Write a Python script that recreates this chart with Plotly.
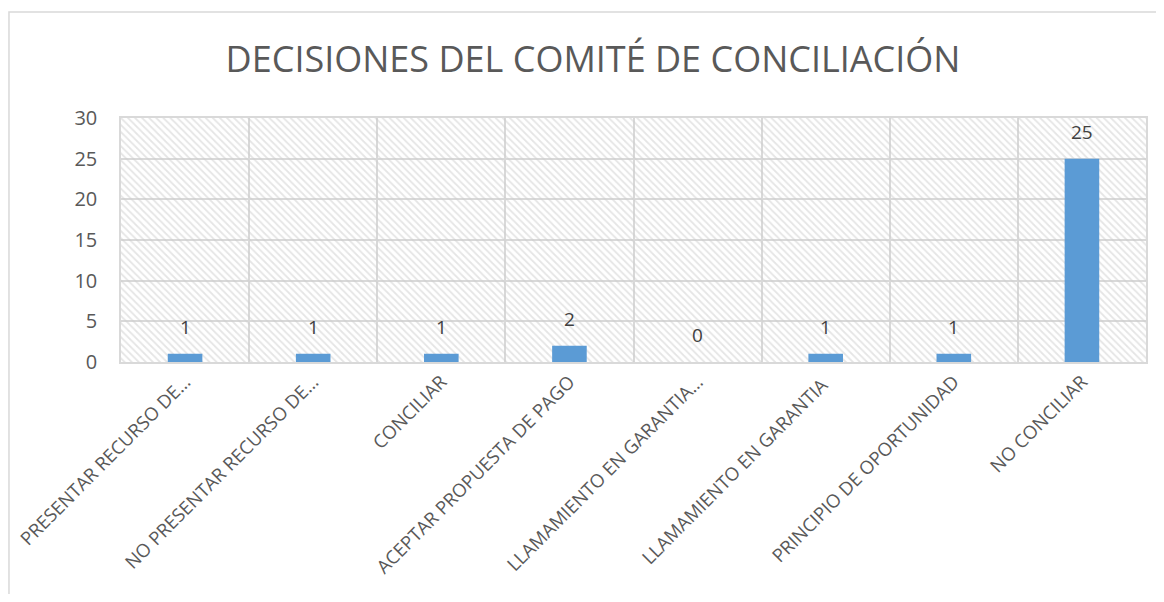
import plotly.graph_objects as go

categories = [
    "PRESENTAR RECURSO DE…",
    "NO PRESENTAR RECURSO DE…",
    "CONCILIAR",
    "ACEPTAR PROPUESTA DE PAGO",
    "LLAMAMIENTO EN GARANTIA…",
    "LLAMAMIENTO EN GARANTIA ",
    "PRINCIPIO DE OPORTUNIDAD",
    "NO CONCILIAR",
]
values = [1, 1, 1, 2, 0, 1, 1, 25]
y_max = 30
y_ticks = [0, 5, 10, 15, 20, 25, 30]

FONT = "Open Sans"
fig = go.Figure()

# hatched plot-area background
fig.add_trace(go.Bar(
    x=categories, y=[y_max] * len(categories), width=1,
    marker=dict(color="rgba(0,0,0,0)", line=dict(width=0),
                pattern=dict(shape="\\", size=5, solidity=0.35,
                             fgcolor="#cccccc", bgcolor="rgba(0,0,0,0)")),
    hoverinfo="skip", showlegend=False,
))

fig.add_trace(go.Bar(
    x=categories, y=values, width=0.27,
    marker=dict(color="#5B9BD5", line=dict(width=0)),
    showlegend=False,
))

annotations = [
    dict(x=c, y=v, text=str(v), showarrow=False, xref="x", yref="y",
         yanchor="bottom", yshift=12,
         font=dict(family=FONT, size=19, color="#404040"))
    for c, v in zip(categories, values)
]

fig.update_layout(
    width=1148, height=586,
    margin=dict(l=113, r=10, t=110, b=232, autoexpand=False),
    barmode="overlay",
    paper_bgcolor="white", plot_bgcolor="white",
    title=dict(text="DECISIONES DEL COMITÉ DE CONCILIACIÓN",
               font=dict(family=FONT, size=36, color="#595959"),
               x=0.5096, xref="container", xanchor="center", y=0.912, yanchor="middle"),
    xaxis=dict(type="category", tickson="boundaries", showgrid=True,
               gridcolor="#d9d9d9", gridwidth=1.5, tickangle=-45,
               tickfont=dict(family=FONT, size=18.5, color="#595959"),
               ticks="", showline=True, linecolor="#d9d9d9", linewidth=1.5,
               mirror=True, automargin=False),
    yaxis=dict(range=[0, y_max], tickvals=y_ticks, showgrid=True,
               gridcolor="#d9d9d9", gridwidth=1.5,
               tickfont=dict(family=FONT, size=20, color="#595959"),
               ticks="", showline=True, linecolor="#d9d9d9", linewidth=1.5,
               mirror=True, zeroline=False, ticklabelstandoff=18,
               automargin=False),
    annotations=annotations,
    shapes=[dict(type="rect", xref="paper", yref="paper",
                 x0=-0.1093, x1=1.2, y0=-1.2, y1=1.434,
                 line=dict(color="#d9d9d9", width=1.5), fillcolor="rgba(0,0,0,0)",
                 layer="below")],
)

fig.write_html("out.html")
